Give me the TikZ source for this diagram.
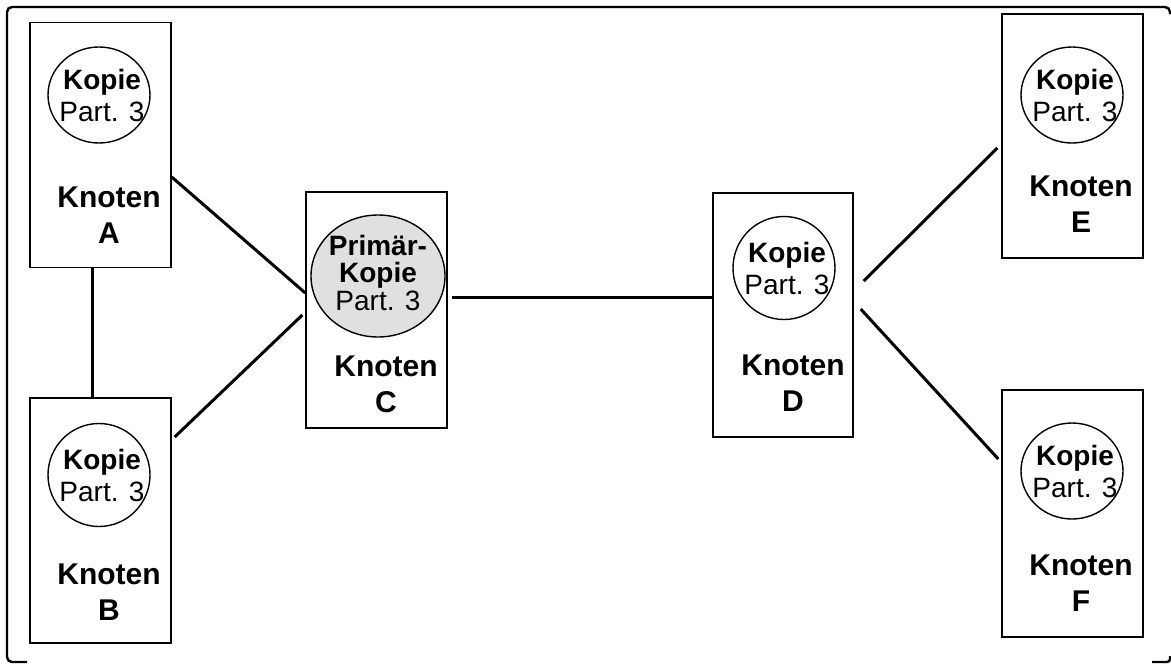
\documentclass[tikz,border=0pt]{standalone}
\usepackage{fontspec}
\setmainfont{Liberation Sans}
\usetikzlibrary{shapes.geometric}

\begin{document}
\begin{tikzpicture}[x=1pt,y=-1pt,font=\fontsize{28}{32}\selectfont]
\useasboundingbox (0,0) rectangle (1171,664);
% frame
\draw[line width=2.4pt,rounded corners=5pt] (27,662) -- (7,662) -- (7,7) -- (1170,7) -- (1170,14);
\draw[line width=2.4pt,rounded corners=3pt] (1152,662) -- (1170,662) -- (1170,656);
\begin{scope}[every node/.style={rectangle,draw,line width=1.4pt,minimum width=141pt,minimum height=245pt,inner sep=0pt}]
    \node (A) at (100.5,145) {};
    \node (B) at (100.5,520.5) {};
    \node[minimum height=236pt] (C) at (376.5,310) {};
    \node[minimum width=140pt,minimum height=244pt] (D) at (783,315) {};
    \node[minimum height=244pt] (E) at (1072.5,136) {};
    \node[minimum height=247pt] (F) at (1072.5,513.5) {};
\end{scope}
\begin{scope}[every node/.style={ellipse,draw,line width=1.4pt,inner sep=0pt,minimum width=102pt,minimum height=96pt}]
    \node[label={[align=center,xshift=3pt]center:\textbf{Kopie}\\Part. 3}] (cA) at (99,95) {};
    \node[minimum height=103pt,label={[align=center,xshift=3pt]center:\textbf{Kopie}\\Part. 3}] (cB) at (99,475) {};
    \node[fill=black!12,minimum width=134pt,minimum height=122pt,
          label={[align=center,yshift=3pt]center:\textbf{Primär-}\\[-5pt]\textbf{Kopie}\\[-4pt]Part. 3}] (cC) at (378,276) {};
    \node[minimum height=103pt,label={[align=center,xshift=3pt]center:\textbf{Kopie}\\Part. 3}] (cD) at (784,268) {};
    \node[label={[align=center,xshift=3pt]center:\textbf{Kopie}\\Part. 3}] (cE) at (1072,95) {};
    \node[label={[align=center,xshift=3pt]center:\textbf{Kopie}\\Part. 3}] (cF) at (1072,471) {};
\end{scope}
\begin{scope}[every node/.style={align=center,font=\fontsize{30}{34}\selectfont\bfseries}]
    \node (lA) at (109,215) {Knoten\\[2pt]A};
    \node (lB) at (109,592.5) {Knoten\\[2pt]B};
    \node (lC) at (386,384) {Knoten\\[2pt]C};
    \node (lD) at (793,383.5) {Knoten\\[2pt]D};
    \node (lE) at (1081,204.5) {Knoten\\[2pt]E};
    \node (lF) at (1081,583.5) {Knoten\\[2pt]F};
\end{scope}
\begin{scope}[every edge/.style={draw,line width=3pt}]
    \path ([xshift=-8.5pt]A.south) edge ([xshift=-8.5pt]B.north);
    \path ([yshift=-32pt]A.east) edge ([yshift=17pt]C.west);
    \path ([shift={(3pt,83.5pt)}]B.east) edge ([shift={(-3pt,-5pt)}]C.west);
    \path ([shift={(4pt,13pt)}]C.east) edge ([yshift=18pt]D.west);
    \path ([shift={(10pt,34pt)}]D.east) edge ([shift={(-4pt,-12pt)}]E.west);
    \path ([shift={(7pt,6pt)}]D.east) edge ([shift={(-3pt,54.5pt)}]F.west);
\end{scope}
\end{tikzpicture}
\end{document}
